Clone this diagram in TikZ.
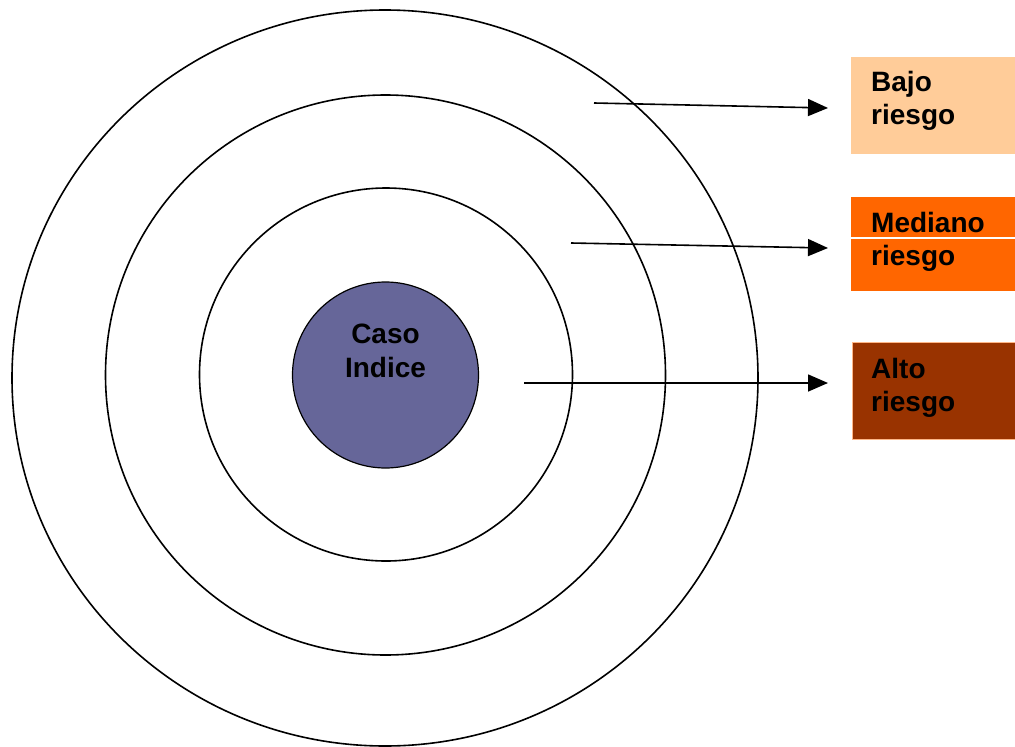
\documentclass[tikz,border=0pt]{standalone}
\usepackage{fontspec}
\setmainfont{Liberation Sans}
\usetikzlibrary{arrows.meta}
\definecolor{core}{HTML}{666699}
\definecolor{lowrisk}{HTML}{FFCC99}
\definecolor{midrisk}{HTML}{FF6600}
\definecolor{highrisk}{HTML}{993300}
\definecolor{rim}{HTML}{FFB787}
\tikzset{
  ring/.style={draw=black, line width=1.6pt},
  riskbox/.style={rectangle, minimum width=164pt, minimum height=97pt, anchor=north west, inner sep=0pt},
  caption/.style={font=\fontsize{28}{33}\selectfont\bfseries, align=left, inner sep=0pt, anchor=base west},
  pointer/.style={line width=1.6pt, -{Triangle[length=20pt,width=17pt]}}
}
\begin{document}
\begin{tikzpicture}[x=1pt, y=-1pt]
  \useasboundingbox (0,0) rectangle (1015,747);
  % concentric risk zones
  \draw[ring] (385,378) ellipse [x radius=373, y radius=368];
  \draw[ring] (385.5,375) circle [radius=280];
  \draw[ring] (386,374.5) circle [radius=186.5];
  \node[circle, fill=core, draw=black, line width=1.2pt, minimum size=186pt, inner sep=0pt] (indice) at (385.5,375) {};
  \node[font=\fontsize{28}{34}\selectfont\bfseries, align=center, inner sep=0pt, anchor=base] (tindice) at (385.5,377) {Caso\\Indice};
  % risk level boxes
  \node[riskbox, fill=lowrisk] (bajo) at (851,57) {};
  \node[riskbox, fill=midrisk, minimum height=94pt] (mediano) at (851,197) {};
  \draw[white, line width=1.2pt] (mediano.west |- 0,238) -- (mediano.east |- 0,238);
  \node[riskbox, fill=highrisk, draw=rim, line width=1.2pt, minimum height=97pt] (alto) at (851.5,342) {};
  % the base anchor sits on the last line
  \node[caption] (tbajo) at (871,124) {Bajo\\riesgo};
  \node[caption] (tmediano) at (871,265) {Mediano\\riesgo};
  \node[caption] (talto) at (871,411) {Alto\\riesgo};
  % pointers from each zone to its level
  \coordinate (s1) at (594,103);
  \coordinate (e1) at (828,108);
  \coordinate (s2) at (571,243);
  \coordinate (e2) at (828,248);
  \coordinate (s3) at (524,383);
  \coordinate (e3) at (828,383);
  \draw[pointer] (s1) -- (e1);
  \draw[pointer] (s2) -- (e2);
  \draw[pointer] (s3) -- (e3);
\end{tikzpicture}
\end{document}
